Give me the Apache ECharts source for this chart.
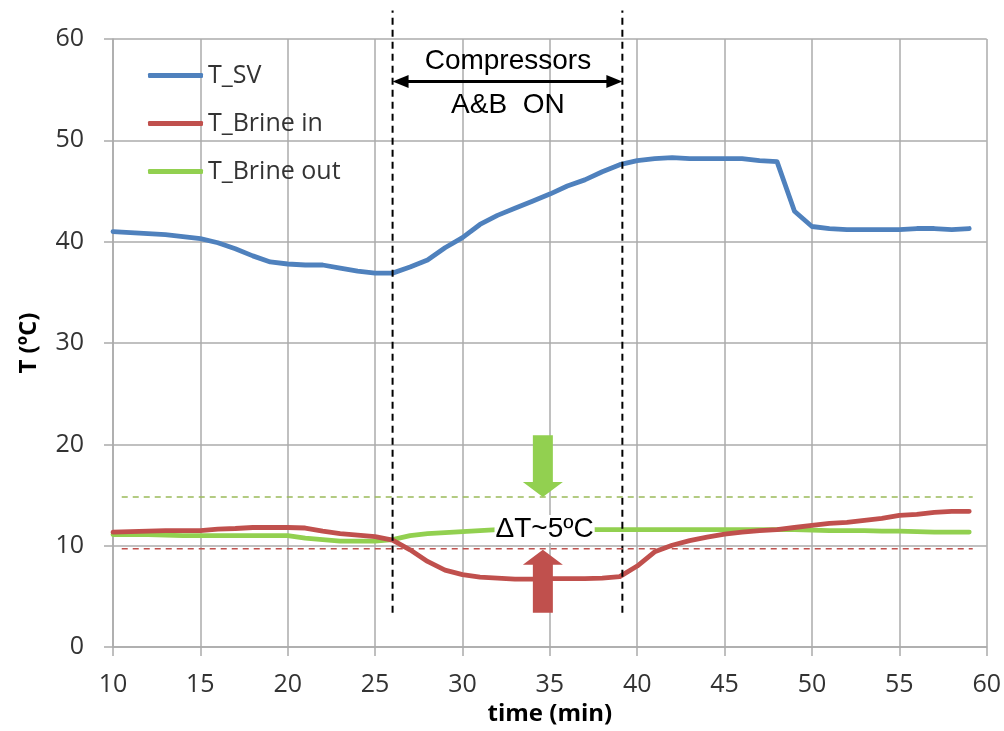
<!DOCTYPE html>
<html>
<head>
<meta charset="utf-8">
<script src="https://cdn.jsdelivr.net/npm/echarts@6/dist/echarts.min.js"></script>
<style>
  html, body { margin: 0; padding: 0; background: #fff; }
  #chart { width: 1004px; height: 731px; }
</style>
</head>
<body>
<div id="chart"></div>
<script>
// ---------------- data ----------------
const minutes = [10,11,12,13,14,15,16,17,18,19,20,21,22,23,24,25,26,27,28,29,
                 30,31,32,33,34,35,36,37,38,39,40,41,42,43,44,45,46,47,48,49,
                 50,51,52,53,54,55,56,57,58,59];
const tSV = [41.0,40.9,40.8,40.7,40.5,40.3,39.9,39.3,38.6,38.0,
             37.8,37.7,37.7,37.4,37.1,36.9,36.9,37.5,38.2,39.4,
             40.4,41.7,42.6,43.3,44.0,44.7,45.5,46.1,46.9,47.6,
             48.0,48.2,48.3,48.2,48.2,48.2,48.2,48.0,47.9,43.0,
             41.5,41.3,41.2,41.2,41.2,41.2,41.3,41.3,41.2,41.3];
const tBrineIn = [11.35,11.4,11.45,11.5,11.5,11.5,11.65,11.7,11.8,11.8,
                  11.8,11.75,11.45,11.2,11.05,10.9,10.55,9.6,8.45,7.6,
                  7.15,6.9,6.8,6.7,6.7,6.75,6.75,6.75,6.8,6.95,
                  8.0,9.4,10.05,10.5,10.85,11.15,11.35,11.5,11.6,11.8,
                  12.0,12.2,12.3,12.5,12.7,13.0,13.1,13.3,13.4,13.4];
const tBrineOut = [11.1,11.1,11.1,11.05,11.0,11.0,11.0,11.0,11.0,11.0,
                   11.0,10.75,10.6,10.45,10.45,10.45,10.6,11.0,11.2,11.3,
                   11.4,11.5,11.6,11.6,11.6,11.6,11.6,11.6,11.6,11.6,
                   11.6,11.6,11.6,11.6,11.6,11.6,11.6,11.6,11.6,11.6,
                   11.55,11.5,11.5,11.5,11.45,11.45,11.4,11.35,11.35,11.35];
const seriesNames = ['T_SV', 'T_Brine in', 'T_Brine out'];

// annotations (data coordinates)
const compressorOn = [26, 39.15];          // minutes where compressors switch on/off
const vLineYRange = [3.4, 62.8];
const compressorArrowY = 55.8;
const compressorTexts = [['Compressors', 32.6, 57.8], ['A&B  ON', 32.6, 53.5]];
const brineOutLevel = 14.8;
const brineInLevel = 9.7;
const hLineXRange = [10.5, 59.2];
const deltaText = ['ΔT~5ºC', 34.7, 11.65];
const blockArrowX = 34.6;
const greenArrowY = [20.9, 14.8];  // from, to (tip)
const redArrowY = [3.4, 9.6];      // from, to (tip)

// ---------------- chart ----------------
const colors = ['#4F81BD', '#C0504D', '#92D050'];
const chart = echarts.init(document.getElementById('chart'));
const toPairs = arr => minutes.map((m, i) => [m, arr[i]]);
const gridColor = '#ABABAB';

chart.setOption({
  animation: false,
  backgroundColor: '#ffffff',
  grid: { left: 113, right: 16, top: 39, bottom: 79, containLabel: false },
  legend: {
    orient: 'vertical',
    left: 143, top: 58,
    icon: 'roundRect',
    itemWidth: 55, itemHeight: 5, itemGap: 23,
    textStyle: { fontFamily: 'Open Sans', fontSize: 25, color: '#333333' },
    data: seriesNames
  },
  xAxis: {
    type: 'value', min: 10, max: 60, interval: 5,
    name: 'time (min)', nameLocation: 'middle', nameGap: 53,
    nameTextStyle: { fontFamily: 'Open Sans', fontWeight: 'bold', fontSize: 24, color: '#000' },
    axisLine: { show: true, lineStyle: { color: gridColor, width: 1.5 } },
    axisTick: { show: true, length: 9, lineStyle: { color: gridColor, width: 1.5 } },
    axisLabel: { margin: 25, fontFamily: 'Open Sans', fontSize: 25, color: '#333333' },
    splitLine: { show: true, lineStyle: { color: gridColor, width: 1.5 } }
  },
  yAxis: {
    type: 'value', min: 0, max: 60, interval: 10,
    name: 'T (ºC)', nameLocation: 'middle', nameGap: 72,
    nameTextStyle: { fontFamily: 'Open Sans', fontWeight: 'bold', fontSize: 24, color: '#000' },
    axisLine: { show: true, lineStyle: { color: gridColor, width: 1.5 } },
    axisTick: { show: true, length: 9, lineStyle: { color: gridColor, width: 1.5 } },
    axisLabel: { margin: 29, fontFamily: 'Open Sans', fontSize: 25, color: '#333333' },
    splitLine: { show: true, lineStyle: { color: gridColor, width: 1.5 } }
  },
  series: [tSV, tBrineIn, tBrineOut].map((arr, i) => ({
    name: seriesNames[i],
    type: 'line',
    data: toPairs(arr),
    symbol: 'none',
    color: colors[i],
    itemStyle: { color: colors[i] },
    lineStyle: { color: colors[i], width: 4.8, cap: 'round', join: 'round' },
    z: 3 + (2 - i)
  }))
});

// ---------------- annotations via pixel conversion ----------------
const px = (x, y) => chart.convertToPixel({ gridIndex: 0 }, [x, y]);
const g = [];
// vertical dashed lines
compressorOn.forEach(x => {
  const a = px(x, vLineYRange[0]), b = px(x, vLineYRange[1]);
  g.push({ type: 'line', z: 20, shape: { x1: a[0], y1: a[1], x2: b[0], y2: b[1] },
    style: { stroke: '#000', lineWidth: 2, lineDash: [7, 5] } });
});
// horizontal dashed lines
[[brineOutLevel, '#9BBB59'], [brineInLevel, '#C0504D']].forEach(([y, c]) => {
  const a = px(hLineXRange[0], y), b = px(hLineXRange[1], y);
  g.push({ type: 'line', z: 20, shape: { x1: a[0], y1: a[1], x2: b[0], y2: b[1] },
    style: { stroke: c, lineWidth: 1.5, lineDash: [6, 5] } });
});
// double-headed arrow
{
  const a = px(compressorOn[0], compressorArrowY), b = px(compressorOn[1], compressorArrowY);
  const hl = 16, hw = 6.5;
  g.push({ type: 'line', z: 21, shape: { x1: a[0] + hl - 2, y1: a[1], x2: b[0] - hl + 2, y2: b[1] },
    style: { stroke: '#000', lineWidth: 3 } });
  g.push({ type: 'polygon', z: 21, shape: { points: [[a[0], a[1]], [a[0] + hl, a[1] - hw], [a[0] + hl, a[1] + hw]] },
    style: { fill: '#000' } });
  g.push({ type: 'polygon', z: 21, shape: { points: [[b[0], b[1]], [b[0] - hl, b[1] - hw], [b[0] - hl, b[1] + hw]] },
    style: { fill: '#000' } });
}
// texts
compressorTexts.forEach(([t, x, y]) => {
  const p = px(x, y);
  g.push({ type: 'text', z: 22, x: p[0], y: p[1],
    style: { text: t, fill: '#000', font: '28px "Liberation Sans", Arial, sans-serif', align: 'center', verticalAlign: 'middle' } });
});
// block arrows
function blockArrow(x, yFrom, yTo, color) {
  const a = px(x, yFrom), b = px(x, yTo);
  const dir = Math.sign(b[1] - a[1]);
  const sw = 10, hw = 20, hl = 15;
  const cx = a[0];
  const neck = b[1] - dir * hl;
  return { type: 'polygon', z: 23, shape: { points: [
    [cx - sw, a[1]], [cx + sw, a[1]], [cx + sw, neck], [cx + hw, neck], [cx, b[1]],
    [cx - hw, neck], [cx - sw, neck] ] }, style: { fill: color } };
}
g.push(blockArrow(blockArrowX, greenArrowY[0], greenArrowY[1], '#92D050'));
g.push(blockArrow(blockArrowX, redArrowY[0], redArrowY[1], '#C0504D'));
// delta text with white background
{
  const p = px(deltaText[1], deltaText[2]);
  g.push({ type: 'text', z: 24, x: p[0], y: p[1],
    style: { text: deltaText[0], fill: '#000', font: '28px "Liberation Sans", Arial, sans-serif',
      align: 'center', verticalAlign: 'middle', backgroundColor: '#fff', padding: [0, 1] } });
}
chart.setOption({ graphic: g });
</script>
</body>
</html>
